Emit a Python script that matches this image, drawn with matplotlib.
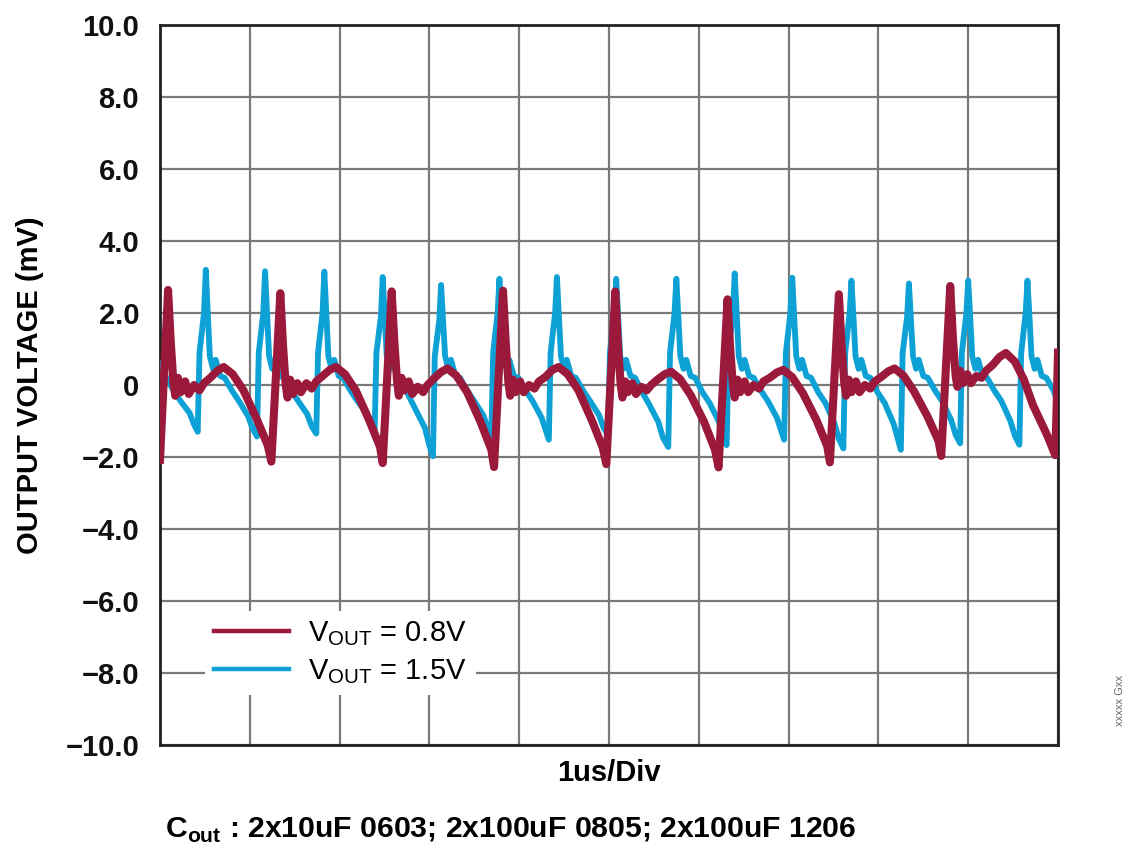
import matplotlib
matplotlib.use("Agg")
import matplotlib.pyplot as plt
from matplotlib.lines import Line2D

plt.rcParams['font.family'] = ['Liberation Sans', 'DejaVu Sans']
plt.rcParams['mathtext.fontset'] = 'custom'
plt.rcParams['mathtext.rm'] = 'Liberation Sans'
plt.rcParams['mathtext.bf'] = 'Liberation Sans:bold'

# time in us (1us/Div, 10 divisions), voltage in mV
red_t = [0.00, 0.09, 0.12, 0.15, 0.17, 0.20, 0.23, 0.28, 0.32, 0.38, 0.44, 0.49, 0.56, 0.64, 0.71, 0.81, 0.93, 1.08, 1.20,
         1.24, 1.34, 1.37, 1.40, 1.42, 1.45, 1.48, 1.53, 1.57, 1.63, 1.69, 1.74, 1.81, 1.89, 1.96, 2.06, 2.18, 2.33, 2.45,
         2.48, 2.58, 2.61, 2.64, 2.66, 2.69, 2.72, 2.77, 2.81, 2.87, 2.93, 2.98, 3.05, 3.13, 3.20, 3.30, 3.42, 3.57, 3.69,
         3.72, 3.82, 3.85, 3.88, 3.90, 3.93, 3.96, 4.01, 4.05, 4.11, 4.17, 4.22, 4.29, 4.37, 4.44, 4.54, 4.66, 4.81, 4.93,
         4.97, 5.07, 5.10, 5.13, 5.15, 5.18, 5.21, 5.26, 5.30, 5.36, 5.42, 5.47, 5.54, 5.62, 5.69, 5.79, 5.91, 6.06, 6.18,
         6.22, 6.32, 6.35, 6.38, 6.40, 6.43, 6.46, 6.51, 6.55, 6.61, 6.67, 6.72, 6.79, 6.87, 6.94, 7.04, 7.16, 7.31, 7.43,
         7.46, 7.56, 7.59, 7.62, 7.64, 7.67, 7.70, 7.75, 7.79, 7.85, 7.91, 7.96, 8.03, 8.11, 8.18, 8.28, 8.40, 8.55, 8.67,
         8.70, 8.80, 8.83, 8.86, 8.88, 8.91, 8.94, 8.99, 9.03, 9.09, 9.15, 9.20, 9.27, 9.35, 9.42, 9.52, 9.62, 9.72, 9.88,
         9.97, 10.00]
red_v = [-2.08, 2.64, 1.20, 0.05, -0.30, 0.20, -0.20, 0.10, -0.25, 0.00, -0.15, 0.05, 0.20, 0.40, 0.50, 0.30, -0.15, -0.96, -1.68,
         -2.13, 2.55, 1.10, 0.00, -0.35, 0.15, -0.25, 0.05, -0.20, 0.05, -0.10, 0.10, 0.25, 0.42, 0.50, 0.30, -0.15, -0.98, -1.72,
         -2.17, 2.60, 1.20, 0.10, -0.30, 0.20, -0.15, 0.10, -0.25, -0.05, -0.20, 0.00, 0.18, 0.36, 0.46, 0.26, -0.20, -1.03, -1.80,
         -2.28, 2.62, 1.20, 0.05, -0.30, 0.15, -0.20, 0.10, -0.20, 0.00, -0.10, 0.10, 0.22, 0.42, 0.50, 0.30, -0.15, -0.99, -1.74,
         -2.20, 2.60, 1.10, 0.00, -0.35, 0.10, -0.20, 0.05, -0.25, -0.05, -0.15, 0.00, 0.15, 0.30, 0.37, 0.17, -0.28, -1.03, -1.80,
         -2.29, 2.38, 1.00, 0.00, -0.35, 0.15, -0.20, 0.10, -0.20, 0.00, -0.10, 0.10, 0.20, 0.35, 0.42, 0.22, -0.23, -0.97, -1.70,
         -2.15, 2.52, 1.10, 0.05, -0.30, 0.15, -0.20, 0.10, -0.20, 0.00, -0.10, 0.10, 0.22, 0.38, 0.46, 0.26, -0.19, -0.89, -1.56,
         -1.97, 2.75, 1.30, 0.25, -0.05, 0.40, 0.05, 0.30, 0.05, 0.25, 0.20, 0.40, 0.55, 0.78, 0.89, 0.65, 0.15, -0.55, -1.40,
         -1.95, 0.90]

blue_t = [0.00, 0.07, 0.15, 0.23, 0.33, 0.38,
          0.42, 0.44, 0.49, 0.51, 0.53, 0.555, 0.59, 0.62, 0.67, 0.72, 0.80, 0.88, 0.98, 1.03,
          1.08, 1.10, 1.15, 1.17, 1.19, 1.215, 1.25, 1.28, 1.33, 1.38, 1.46, 1.54, 1.64, 1.69,
          1.74, 1.76, 1.81, 1.83, 1.85, 1.875, 1.91, 1.94, 1.99, 2.04, 2.12, 2.20, 2.30, 2.35,
          2.39, 2.41, 2.46, 2.48, 2.50, 2.525, 2.56, 2.59, 2.64, 2.69, 2.77, 2.85, 2.95, 3.00,
          3.04, 3.06, 3.11, 3.13, 3.15, 3.175, 3.21, 3.24, 3.29, 3.34, 3.42, 3.50, 3.60, 3.65,
          3.69, 3.71, 3.76, 3.78, 3.80, 3.825, 3.86, 3.89, 3.94, 3.99, 4.07, 4.15, 4.25, 4.30,
          4.33, 4.35, 4.40, 4.42, 4.44, 4.465, 4.50, 4.53, 4.58, 4.63, 4.71, 4.79, 4.89, 4.94,
          4.99, 5.01, 5.06, 5.08, 5.10, 5.125, 5.16, 5.19, 5.24, 5.29, 5.37, 5.45, 5.55, 5.60,
          5.66, 5.68, 5.73, 5.75, 5.77, 5.795, 5.83, 5.86, 5.91, 5.96, 6.04, 6.12, 6.22, 6.27,
          6.31, 6.33, 6.38, 6.40, 6.42, 6.445, 6.48, 6.51, 6.56, 6.61, 6.69, 6.77, 6.87, 6.92,
          6.95, 6.97, 7.02, 7.04, 7.06, 7.085, 7.12, 7.15, 7.20, 7.25, 7.33, 7.41, 7.51, 7.56,
          7.61, 7.63, 7.68, 7.70, 7.72, 7.745, 7.78, 7.81, 7.86, 7.91, 7.99, 8.07, 8.17, 8.22,
          8.25, 8.27, 8.32, 8.34, 8.36, 8.385, 8.42, 8.45, 8.50, 8.55, 8.63, 8.71, 8.81, 8.86,
          8.91, 8.93, 8.98, 9.00, 9.02, 9.045, 9.08, 9.11, 9.16, 9.21, 9.29, 9.37, 9.47, 9.52,
          9.57, 9.59, 9.64, 9.66, 9.68, 9.705, 9.74, 9.77, 9.82, 9.87, 9.95, 10.00]
blue_v = [0.60, 0.20, -0.15, -0.45, -0.78, -1.10,
          -1.30, 0.90, 2.00, 3.20, 2.10, 0.80, 0.45, 0.70, 0.25, 0.20, -0.15, -0.45, -0.86, -1.20,
          -1.43, 0.90, 2.00, 3.16, 2.10, 0.80, 0.45, 0.70, 0.25, 0.20, -0.15, -0.45, -0.81, -1.15,
          -1.35, 0.90, 2.00, 3.15, 2.10, 0.80, 0.45, 0.70, 0.25, 0.20, -0.15, -0.45, -0.78, -1.10,
          -1.30, 0.90, 1.90, 3.00, 2.00, 0.80, 0.45, 0.70, 0.25, 0.10, -0.30, -0.70, -1.19, -1.68,
          -1.98, 0.80, 1.80, 2.78, 1.90, 0.80, 0.45, 0.70, 0.25, 0.20, -0.15, -0.45, -0.84, -1.19,
          -1.40, 0.90, 2.00, 2.95, 2.00, 0.80, 0.45, 0.70, 0.25, 0.20, -0.15, -0.45, -0.91, -1.29,
          -1.52, 0.90, 2.00, 3.00, 2.00, 0.80, 0.45, 0.70, 0.25, 0.20, -0.15, -0.45, -0.84, -1.19,
          -1.40, 0.90, 2.00, 2.95, 2.00, 0.80, 0.45, 0.70, 0.25, 0.20, -0.20, -0.55, -1.03, -1.46,
          -1.72, 0.90, 2.00, 2.95, 2.00, 0.80, 0.45, 0.70, 0.25, 0.20, -0.20, -0.50, -1.00, -1.42,
          -1.67, 0.90, 2.00, 3.10, 2.10, 0.80, 0.45, 0.70, 0.25, 0.20, -0.15, -0.45, -0.91, -1.29,
          -1.52, 0.90, 2.00, 2.98, 2.00, 0.80, 0.45, 0.70, 0.25, 0.20, -0.20, -0.50, -1.06, -1.50,
          -1.76, 0.90, 2.00, 2.90, 2.00, 0.80, 0.45, 0.70, 0.25, 0.20, -0.20, -0.50, -1.08, -1.53,
          -1.80, 0.90, 1.90, 2.82, 1.90, 0.80, 0.45, 0.70, 0.25, 0.20, -0.15, -0.45, -0.97, -1.38,
          -1.62, 0.90, 2.00, 2.90, 2.00, 0.80, 0.45, 0.70, 0.25, 0.20, -0.15, -0.45, -1.00, -1.41,
          -1.66, 0.90, 2.00, 2.90, 2.00, 0.80, 0.45, 0.70, 0.25, 0.20, -0.15, -0.50]

yticks = [10, 8, 6, 4, 2, 0, -2, -4, -6, -8, -10]
ytick_labels = ["10.0", "8.0", "6.0", "4.0", "2.0", "0", "\u22122.0", "\u22124.0",
                "\u22126.0", "\u22128.0", "\u221210.0"]
labels = [r"V$_{\mathrm{OUT}}$ = 0.8V", r"V$_{\mathrm{OUT}}$ = 1.5V"]

RED = "#9b1a3c"
BLUE = "#0ea1d6"

fig = plt.figure(figsize=(11.4, 8.51), dpi=100)
ax = fig.add_axes([160 / 1140, 1 - 745 / 851, 898 / 1140, 720 / 851])

ax.plot(blue_t, blue_v, color=BLUE, lw=4.2, solid_joinstyle="round", zorder=3)
ax.plot(red_t, red_v, color=RED, lw=5.8, solid_joinstyle="round", zorder=4)

ax.set_xlim(0, 10)
ax.set_ylim(-10, 10)
ax.set_xticks(range(0, 11))
ax.set_xticklabels([])
ax.set_yticks(yticks)
ax.set_yticklabels(ytick_labels, fontsize=21, fontweight="bold", color="#111111")
ax.tick_params(length=0, pad=15)
ax.grid(True, color="#7a7a7a", lw=1.6, zorder=1)
ax.set_axisbelow(True)
for s in ax.spines.values():
    s.set_linewidth(2.0)
    s.set_color("#222222")

handles = [Line2D([], [], color=RED, lw=3.2), Line2D([], [], color=BLUE, lw=3.2)]
leg = ax.legend(handles, labels, loc="lower left", bbox_to_anchor=(0.05, 0.07),
                frameon=True, fontsize=21, handlelength=2.6, handletextpad=0.65,
                labelspacing=0.3, borderpad=0.3, borderaxespad=0)
leg.get_frame().set_edgecolor("none")
leg.get_frame().set_facecolor("white")
leg.get_frame().set_alpha(1)
leg.set_zorder(5)

fig.text(30 / 1140, 1 - 385 / 851, "OUTPUT VOLTAGE (mV)", rotation=90, fontsize=21,
         fontweight="bold", ha="center", va="center")
fig.text(609 / 1140, 1 - 773 / 851, "1us/Div", fontsize=21, fontweight="bold",
         ha="center", va="center")
fig.text(165 / 1140, 1 - 830 / 851,
         r"C$_{\mathbf{out}}$ : 2x10uF 0603; 2x100uF 0805; 2x100uF 1206",
         fontsize=21.7, fontweight="bold", ha="left", va="center")
fig.text(1120 / 1140, 1 - 700 / 851, "xxxxx Gxx", rotation=90, fontsize=8,
         color="#666666", ha="center", va="center")

fig.savefig("out.png", dpi=100)
